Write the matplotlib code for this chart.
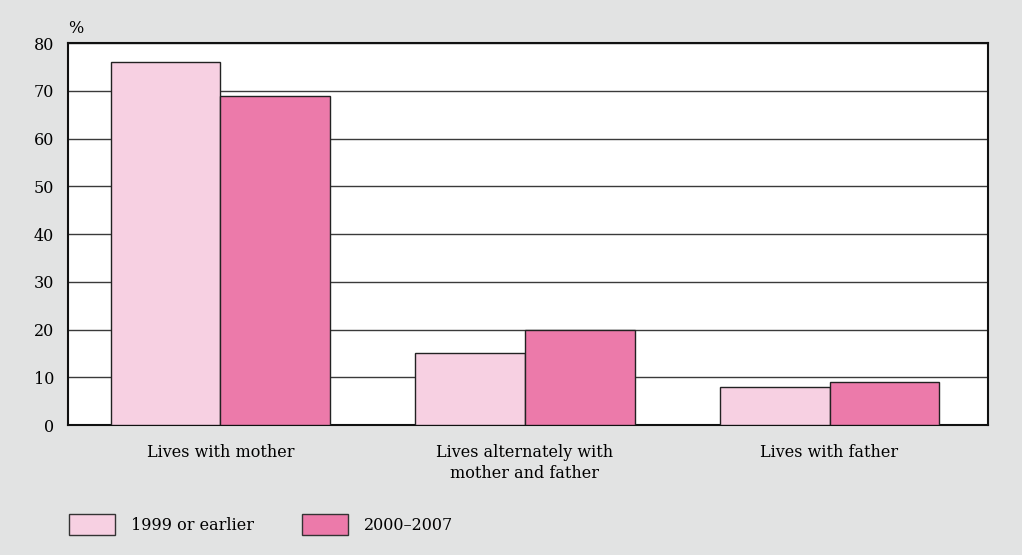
import numpy as np
import matplotlib.pyplot as plt
from matplotlib.patches import Patch

# === Datos ===
categorias = ["Lives with mother", "Lives alternately with\nmother and father", "Lives with father"]
serie_1999 = [76, 15, 8]
serie_2000 = [69, 20, 9]
nombres_series = ["1999 or earlier", "2000\u20132007"]
ticks_y = [0, 10, 20, 30, 40, 50, 60, 70, 80]

COLOR_CLARO = "#f7d0e2"
COLOR_OSCURO = "#ec7aaa"
FONDO = "#e2e3e3"
TAM = 11.5

plt.rcParams['font.family'] = ['DejaVu Serif']

fig = plt.figure(figsize=(10.22, 5.55), dpi=100, facecolor=FONDO)
ax = fig.add_axes([0.0665, 0.2342, 0.9002, 0.6883])
ax.set_facecolor("white")

x = np.arange(len(categorias))
ancho = 0.36
ax.bar(x - ancho / 2, serie_1999, ancho, color=COLOR_CLARO, edgecolor="#222222", linewidth=1, zorder=3)
ax.bar(x + ancho / 2, serie_2000, ancho, color=COLOR_OSCURO, edgecolor="#222222", linewidth=1, zorder=3)

ax.set_xlim(-0.5, 2.52)
ax.set_ylim(0, 80)
ax.set_yticks(ticks_y)
ax.set_yticklabels([str(t) for t in ticks_y], fontsize=TAM)
ax.set_xticks(x)
ax.set_xticklabels(categorias, fontsize=TAM, linespacing=1.25)
ax.tick_params(axis="y", length=0, pad=10)
ax.tick_params(axis="x", length=0, pad=14)
ax.yaxis.grid(True, color="#3a3a3a", linewidth=1)
ax.set_axisbelow(True)
for s in ax.spines.values():
    s.set_linewidth(1.5)
    s.set_color("#111111")

fig.text(0.0665, 0.9495, "%", fontsize=TAM, ha="left", va="center")

# Leyenda
handles = [Patch(facecolor=COLOR_CLARO, edgecolor="#333333"),
           Patch(facecolor=COLOR_OSCURO, edgecolor="#333333")]
fig.legend(handles, nombres_series, loc="center left", bbox_to_anchor=(0.053, 0.055),
           ncol=2, frameon=False, fontsize=TAM, handlelength=2.9, handleheight=1.6,
           columnspacing=3.0, handletextpad=1.0)

fig.savefig("out.png", dpi=100, facecolor=FONDO)
